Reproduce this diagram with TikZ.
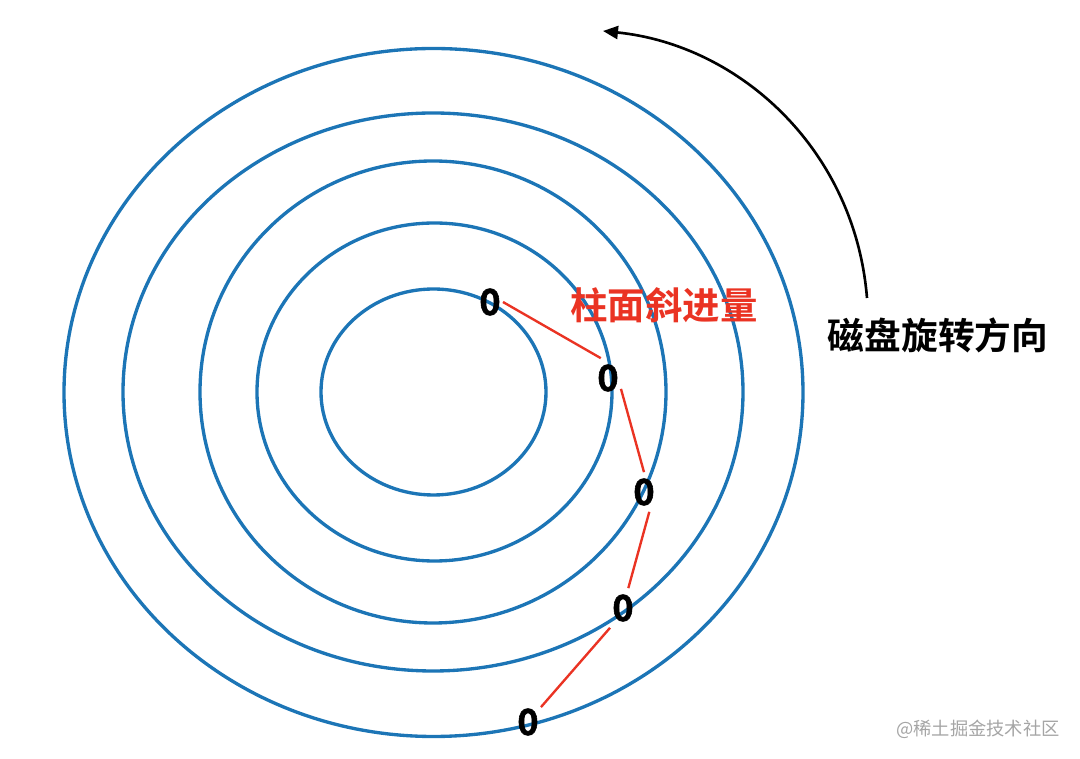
\documentclass[tikz,border=0pt]{standalone}
\usepackage{fontspec}
\usepackage{xcolor}
\usepackage{tikz}
\usetikzlibrary{arrows.meta}
\newfontfamily\cjk{Noto Sans CJK SC}[BoldFont={Noto Sans CJK SC Bold}]
\newfontfamily\digitfont{Noto Sans CJK SC Bold}[FakeBold=1.6]
\definecolor{diskblue}{RGB}{28,117,182}
\definecolor{skewred}{RGB}{234,51,35}
\definecolor{markgray}{RGB}{165,165,165}

\begin{document}
\begin{tikzpicture}[x=0.02cm,y=-0.02cm,
        track/.style={diskblue, line width=1.9pt},
        sector/.style={font=\digitfont\fontsize{20.5}{20}\selectfont, inner xsep=0.04cm, inner ysep=0.12cm},
        skew/.style={skewred, line width=1.35pt}]
                \useasboundingbox (0,0) rectangle (1080,759);

                %% tracks
                \draw[track] (433.5,392) ellipse [x radius=112.5, y radius=103];
                \draw[track] (434.5,392) ellipse [x radius=177.5, y radius=169];
                \draw[track] (433,392) ellipse [x radius=233, y radius=231];
                \draw[track] (433,392) ellipse [x radius=310, y radius=279];
                \draw[track] (433.5,392.5) ellipse [x radius=369.5, y radius=344];

                %% sector 0 on each track
                \node[sector] (z1) at (490,302) {0};
                \node[sector] (z2) at (608,378) {0};
                \node[sector] (z3) at (644,492) {0};
                \node[sector] (z4) at (623,608) {0};
                \node[sector] (z5) at (528,722) {0};

                % skew
                \draw[skew] (z1.east) -- (z2.110);
                \draw[skew] (z2.-40) -- (z3.north);
                \draw[skew] (z3.-75) -- (z4.75);
                \draw[skew] (z4.south west) -- (z5);
                \node[skewred, font=\cjk\bfseries\fontsize{21.3}{22}\selectfont] (skewlabel) at (664,305) {柱面斜进量};

                %% rotation
                \coordinate (rotfrom) at (867,298);
                \coordinate (rotto) at (603,31);
                \draw[line width=1.5pt, -{Triangle[length=0.3cm, width=0.26cm]}] (rotfrom) .. controls (855,150) and (740,45) .. (rotto);
                \node[font=\cjk\bfseries\fontsize{20.9}{22}\selectfont] (rotlabel) at (938,335) {磁盘旋转方向};

                % mark
                \node[markgray, font=\cjk\fontsize{10.4}{11}\selectfont] (mark) at (978,729) {@稀土掘金技术社区};

\end{tikzpicture}
\end{document}
